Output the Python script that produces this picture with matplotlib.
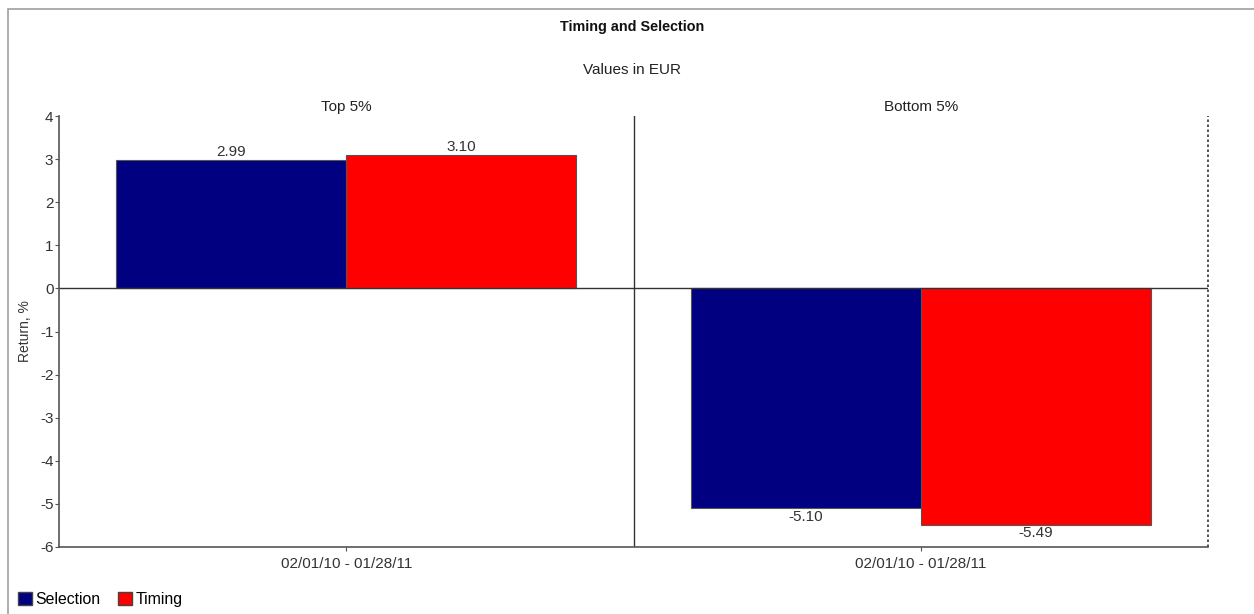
import matplotlib
matplotlib.use('Agg')
import matplotlib.pyplot as plt
from matplotlib.patches import Patch, Rectangle

plt.rcParams['font.family'] = ['Liberation Sans', 'DejaVu Sans']
plt.rcParams['axes.unicode_minus'] = False

# data
groups = ['Top 5%', 'Bottom 5%']
period = '02/01/10 - 01/28/11'
selection = [2.99, -5.10]
timing = [3.10, -5.49]
series_names = ['Selection', 'Timing']
colors = ['#000080', '#FF0000']

fig = plt.figure(figsize=(12.54, 6.14), dpi=100)
W, H = 1254.0, 614.0

# outer frame
fig.patches.append(Rectangle((8 / W, -0.1), 1.2, 1 - 9 / H + 0.1, transform=fig.transFigure,
                             fill=False, edgecolor='#a0a0a0', linewidth=1.2))

ax = fig.add_axes([59 / W, 1 - 547 / H, (1208 - 59) / W, (547 - 116) / H])

w = 0.4
centers = [0.5, 1.5]
for i, c in enumerate(centers):
    b1 = ax.bar(c - w / 2, selection[i], width=w, color=colors[0], edgecolor='#555555', linewidth=0.8)
    b2 = ax.bar(c + w / 2, timing[i], width=w, color=colors[1], edgecolor='#555555', linewidth=0.8)
    for bars, v in [(b1, selection[i]), (b2, timing[i])]:
        rect = bars[0]
        ax.annotate('%.2f' % v, (rect.get_x() + rect.get_width() / 2, v),
                    xytext=(0, 0.5 if v >= 0 else -1), textcoords='offset points',
                    ha='center', va='bottom' if v >= 0 else 'top', fontsize=11, color='#333333')
    ax.text(c, 1.005, groups[i], transform=ax.get_xaxis_transform(), ha='center', va='bottom',
            fontsize=11, color='#222222')

ax.set_xlim(0, 2)
ax.set_ylim(-6, 4)
ax.set_yticks(range(-6, 5))
ax.set_xticks(centers)
ax.set_xticklabels([period, period])
ax.axhline(0, color='#333333', linewidth=1)
ax.axvline(1, color='#333333', linewidth=1)
ax.axvline(2, color='#333333', linewidth=1.2, linestyle=(0, (1.5, 1.5)), clip_on=False)

for s in ['top', 'right']:
    ax.spines[s].set_visible(False)
for s in ['left', 'bottom']:
    ax.spines[s].set_color('#555555')
    ax.spines[s].set_linewidth(1.2)
ax.tick_params(axis='y', length=3, color='#555555', labelsize=11, labelcolor='#333333', pad=1)
ax.tick_params(axis='x', length=3, color='#555555', labelsize=11, labelcolor='#333333', pad=4)
ax.set_ylabel('Return, %', fontsize=10, color='#333333', labelpad=6)

fig.text(632 / W, 1 - 27 / H, 'Timing and Selection', ha='center', va='center',
         fontsize=10.4, fontweight='bold', color='#111111')
fig.text(632 / W, 1 - 70 / H, 'Values in EUR', ha='center', va='center', fontsize=11, color='#222222')

handles = [Patch(facecolor=colors[0], edgecolor='#444444'), Patch(facecolor=colors[1], edgecolor='#444444')]
fig.legend(handles, series_names, loc='lower left', bbox_to_anchor=(11 / W, 0.0), ncol=2, frameon=False,
           fontsize=11.4, handlelength=0.9, handleheight=0.9, handletextpad=0.2, columnspacing=1.1,
           borderaxespad=0.05)

fig.savefig('out.png', dpi=100)
